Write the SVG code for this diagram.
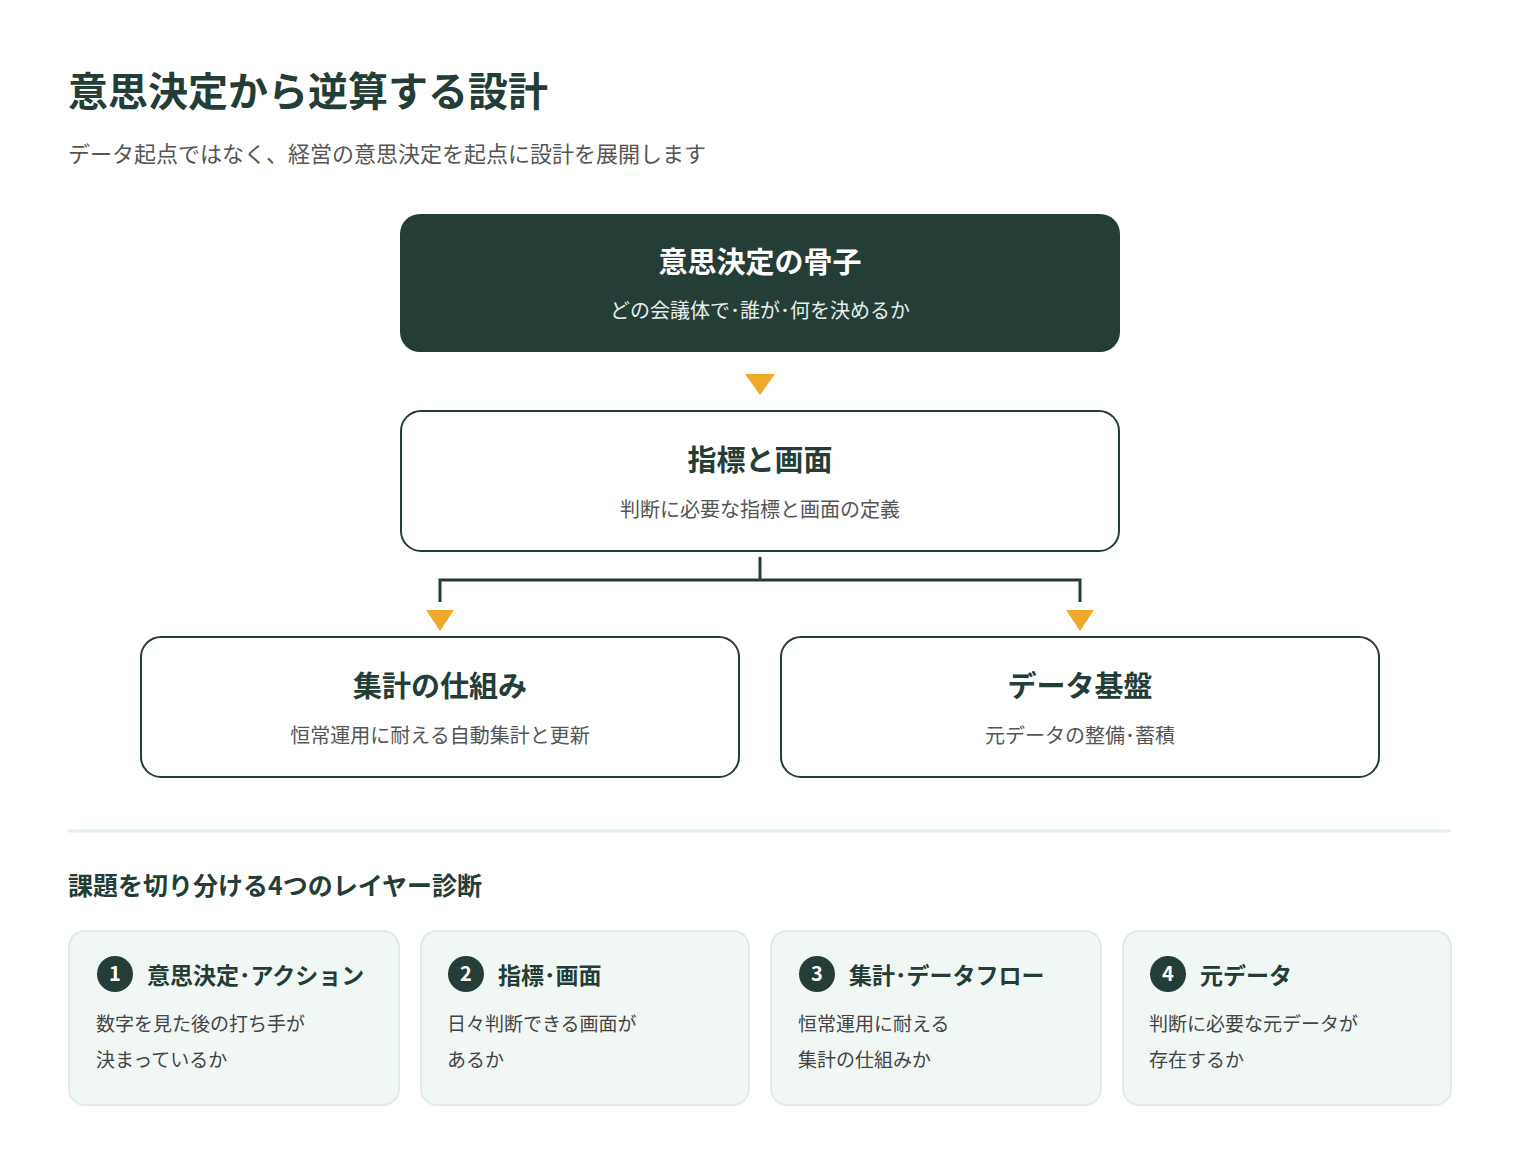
<svg xmlns="http://www.w3.org/2000/svg" width="1520" height="1158" viewBox="0 0 1520 1158">
<style>
text{font-family:"Noto Sans CJK JP","Noto Sans",sans-serif}
.t{fill:#243d36;font-weight:700}
.s{fill:#555;font-size:20px}
.box{fill:#fff;stroke:#243d36;stroke-width:2}
.card{fill:#f1f7f5;stroke:#dfece8;stroke-width:2}
.tri{fill:#f0a92a}
.num{fill:#fff;font-size:20px;font-weight:700;text-anchor:middle}
.ct{fill:#243d36;font-size:23px;font-weight:700}
.cs{fill:#444;font-size:19px}
</style>
<rect width="1520" height="1158" fill="#fff"/>
<text x="68" y="106" class="t" font-size="40">意思決定から逆算する設計</text>
<text x="68" y="162" fill="#555" font-size="22">データ起点ではなく、経営の意思決定を起点に設計を展開します</text>
<g id="n1"><rect x="400" y="214" width="720" height="138" rx="20" fill="#243d36"/>
<text x="760" y="273" text-anchor="middle" fill="#fff" font-size="29" font-weight="700">意思決定の骨子</text>
<text x="760" y="318" text-anchor="middle" fill="#e6efec" font-size="20">どの会議体で･誰が･何を決めるか</text></g>
<g id="n2"><rect x="401" y="411" width="718" height="140" rx="20" class="box"/>
<text x="760" y="471" text-anchor="middle" class="t" font-size="29">指標と画面</text>
<text x="760" y="517" text-anchor="middle" class="s">判断に必要な指標と画面の定義</text></g>
<g id="n3"><rect x="141" y="637" width="598" height="140" rx="20" class="box"/>
<text x="440" y="697" text-anchor="middle" class="t" font-size="29">集計の仕組み</text>
<text x="440" y="743" text-anchor="middle" class="s">恒常運用に耐える自動集計と更新</text></g>
<g id="n4"><rect x="781" y="637" width="598" height="140" rx="20" class="box"/>
<text x="1080" y="697" text-anchor="middle" class="t" font-size="29">データ基盤</text>
<text x="1080" y="743" text-anchor="middle" class="s">元データの整備･蓄積</text></g>
<g id="connectors">
<polygon class="tri" points="745,374 775,374 760,395"/>
<path d="M760 557V580M440 602V580H1080V602" fill="none" stroke="#243d36" stroke-width="3"/>
<polygon class="tri" points="426,610 454,610 440,631"/>
<polygon class="tri" points="1066,610 1094,610 1080,631"/>
</g>
<line x1="68" y1="831" x2="1451" y2="831" stroke="#e1efeb" stroke-width="3"/>
<text x="68" y="895" class="t" font-size="25">課題を切り分ける4つのレイヤー診断</text>
<g id="c1"><rect x="69" y="931" width="330" height="174" rx="16" class="card"/>
<circle cx="115" cy="974" r="18" fill="#243d36"/><text x="115" y="981" class="num">1</text>
<text x="147" y="984" class="ct">意思決定･アクション</text>
<text x="96" y="1031" class="cs">数字を見た後の打ち手が</text><text x="96" y="1067" class="cs">決まっているか</text></g>
<g id="c2"><rect x="421" y="931" width="328" height="174" rx="16" class="card"/>
<circle cx="466" cy="974" r="18" fill="#243d36"/><text x="466" y="981" class="num">2</text>
<text x="498" y="984" class="ct">指標･画面</text>
<text x="447" y="1031" class="cs">日々判断できる画面が</text><text x="447" y="1067" class="cs">あるか</text></g>
<g id="c3"><rect x="771" y="931" width="330" height="174" rx="16" class="card"/>
<circle cx="817" cy="974" r="18" fill="#243d36"/><text x="817" y="981" class="num">3</text>
<text x="849" y="984" class="ct">集計･データフロー</text>
<text x="798" y="1031" class="cs">恒常運用に耐える</text><text x="798" y="1067" class="cs">集計の仕組みか</text></g>
<g id="c4"><rect x="1123" y="931" width="328" height="174" rx="16" class="card"/>
<circle cx="1168" cy="974" r="18" fill="#243d36"/><text x="1168" y="981" class="num">4</text>
<text x="1200" y="984" class="ct">元データ</text>
<text x="1149" y="1031" class="cs">判断に必要な元データが</text><text x="1149" y="1067" class="cs">存在するか</text></g>
</svg>
